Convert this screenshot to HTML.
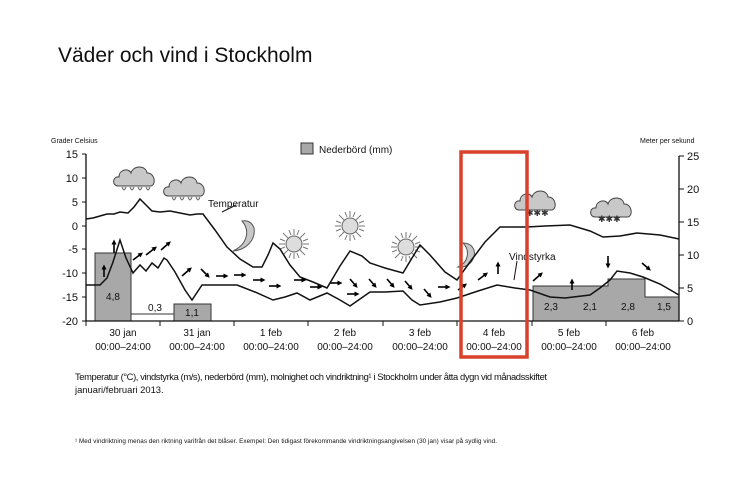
<!DOCTYPE html>
<html><head><meta charset="utf-8"><style>
body{margin:0;background:#fff;}
svg{display:block;font-family:"Liberation Sans",sans-serif;}
</style></head><body>
<svg width="750" height="500" viewBox="0 0 750 500" xmlns="http://www.w3.org/2000/svg">
<defs>
<marker id="ah" markerWidth="5" markerHeight="5" refX="2.5" refY="2.5" orient="auto" markerUnits="userSpaceOnUse"><path d="M0,0 L5,2.5 L0,5 z" fill="#000"/></marker>
<g id="cloud"><path d="M-18,6 C-24,6 -24,-4 -17,-3 C-17,-11 -7,-12 -5,-7 C-3,-15 10,-15 11,-7 C18,-8 21,4 15,6 Z" fill="#c8c8c8" stroke="#444" stroke-width="1"/></g>
<g id="drops" fill="#ddd" stroke="#555" stroke-width="0.8"><path d="M-14,7 q2,6 4,0"/><path d="M-6,7 q2,6 4,0"/><path d="M2,7 q2,6 4,0"/><path d="M10,7 q2,6 4,0"/></g>
<g id="sun"><circle r="8" fill="#ddd" stroke="#666"/><g stroke="#777" stroke-width="1">
<line x1="0" y1="-9" x2="0" y2="-15"/><line x1="0" y1="9" x2="0" y2="15"/><line x1="-9" y1="0" x2="-15" y2="0"/><line x1="9" y1="0" x2="15" y2="0"/>
<line x1="6" y1="6" x2="11" y2="11"/><line x1="-6" y1="-6" x2="-11" y2="-11"/><line x1="6" y1="-6" x2="11" y2="-11"/><line x1="-6" y1="6" x2="-11" y2="11"/>
<line x1="3" y1="-9" x2="5" y2="-14"/><line x1="-3" y1="9" x2="-5" y2="14"/><line x1="9" y1="3" x2="14" y2="5"/><line x1="-9" y1="-3" x2="-14" y2="-5"/>
<line x1="-3" y1="-9" x2="-5" y2="-14"/><line x1="3" y1="9" x2="5" y2="14"/><line x1="9" y1="-3" x2="14" y2="-5"/><line x1="-9" y1="3" x2="-14" y2="5"/></g></g>
</defs>
<text x="58" y="62" font-size="21" fill="#111">Väder och vind i Stockholm</text>

<g stroke="#333" stroke-width="1">
<rect x="95" y="253" width="36" height="68" fill="#a8a8a8"/>
<rect x="131" y="314" width="43" height="7" fill="#fff"/>
<rect x="174" y="304" width="37" height="17" fill="#a8a8a8"/>
<path d="M533,321 V286 H608 V279 H645 V297 H679 V321 Z" fill="#a8a8a8"/>
</g>
<g font-size="10" fill="#111" text-anchor="middle">
<text x="113" y="300">4,8</text><text x="155" y="311">0,3</text><text x="192" y="316">1,1</text>
<text x="551" y="310">2,3</text><text x="590" y="310">2,1</text><text x="628" y="310">2,8</text><text x="664" y="310">1,5</text>
</g>

<g stroke="#111" stroke-width="1.3" fill="none">
<line x1="86" y1="154" x2="86" y2="321"/>
<line x1="86" y1="321" x2="679" y2="321"/>
<line x1="679" y1="156" x2="679" y2="321"/>
</g>
<g stroke="#111" stroke-width="1">
<line x1="82" y1="154" x2="86" y2="154"/><line x1="82" y1="178" x2="86" y2="178"/><line x1="82" y1="202" x2="86" y2="202"/><line x1="82" y1="226" x2="86" y2="226"/><line x1="82" y1="249" x2="86" y2="249"/><line x1="82" y1="273" x2="86" y2="273"/><line x1="82" y1="297" x2="86" y2="297"/><line x1="82" y1="321" x2="86" y2="321"/>
<line x1="679" y1="156" x2="684" y2="156"/><line x1="679" y1="189" x2="684" y2="189"/><line x1="679" y1="222" x2="684" y2="222"/><line x1="679" y1="255" x2="684" y2="255"/><line x1="679" y1="288" x2="684" y2="288"/><line x1="679" y1="321" x2="684" y2="321"/>
<line x1="160" y1="321" x2="160" y2="326"/><line x1="234" y1="321" x2="234" y2="326"/><line x1="308" y1="321" x2="308" y2="326"/><line x1="383" y1="321" x2="383" y2="326"/><line x1="457" y1="321" x2="457" y2="326"/><line x1="532" y1="321" x2="532" y2="326"/><line x1="606" y1="321" x2="606" y2="326"/><line x1="86" y1="321" x2="86" y2="326"/>
</g>
<g font-size="11" fill="#111" text-anchor="end">
<text x="78" y="158">15</text><text x="78" y="182">10</text><text x="78" y="206">5</text><text x="78" y="230">0</text><text x="78" y="253">-5</text><text x="78" y="277">-10</text><text x="78" y="301">-15</text><text x="78" y="325">-20</text>
</g>
<g font-size="11" fill="#111">
<text x="687" y="160">25</text><text x="687" y="193">20</text><text x="687" y="226">15</text><text x="687" y="259">10</text><text x="687" y="292">5</text><text x="687" y="325">0</text>
</g>
<text x="51" y="143" font-size="7" fill="#111">Grader Celsius</text>
<text x="640" y="143" font-size="7" fill="#111">Meter per sekund</text>
<rect x="301" y="143" width="12" height="11" fill="#a8a8a8" stroke="#333"/>
<text x="319" y="153" font-size="10" fill="#111">Nederbörd (mm)</text>

<g font-size="10" fill="#111" text-anchor="middle">
<text x="123" y="336">30 jan</text><text x="123" y="350">00:00–24:00</text>
<text x="197" y="336">31 jan</text><text x="197" y="350">00:00–24:00</text>
<text x="271" y="336">1 feb</text><text x="271" y="350">00:00–24:00</text>
<text x="345" y="336">2 feb</text><text x="345" y="350">00:00–24:00</text>
<text x="420" y="336">3 feb</text><text x="420" y="350">00:00–24:00</text>
<text x="494" y="336">4 feb</text><text x="494" y="350">00:00–24:00</text>
<text x="569" y="336">5 feb</text><text x="569" y="350">00:00–24:00</text>
<text x="643" y="336">6 feb</text><text x="643" y="350">00:00–24:00</text>
</g>

<use href="#cloud" x="136" y="180"/><use href="#drops" x="136" y="180"/>
<use href="#cloud" x="186" y="190"/><use href="#drops" x="186" y="190"/>
<use href="#cloud" x="537" y="204"/>
<use href="#cloud" x="613" y="211"/>
<g font-size="9" fill="#333"><text x="526" y="216">✱✱✱</text><text x="598" y="222">✱✱✱</text></g>
<use href="#sun" x="294" y="244"/>
<use href="#sun" x="350" y="226"/>
<use href="#sun" x="406" y="247"/>
<path d="M242,221 C250,230 248,244 233,251 C246,250 256,240 254,228 C252,222 247,220 242,221 Z" fill="#c8c8c8" stroke="#555"/>
<path d="M463,243 C470,250 469,262 458,267 C470,268 476,258 474,250 C472,245 468,243 463,243 Z" fill="#c8c8c8" stroke="#555"/>

<polyline fill="none" stroke="#111" stroke-width="1.5" points="86,219 93,218 100,216 107,214 114,214 120,212 128,213 134,207 140,199 146,205 152,211 160,212 170,211 180,213 190,215 197,214 203,214 215,230 227,247 240,259 253,267 262,267 268,255 273,243 280,249 290,265 300,277 313,282 327,288 340,266 350,251 362,256 370,263 385,268 403,273 412,258 420,245 430,255 445,272 457,280 470,262 485,242 500,227 527,227 545,226 570,225 590,231 603,237 620,236 637,233 660,235 679,239"/>
<polyline fill="none" stroke="#111" stroke-width="1.5" points="86,285 100,285 107,278 113,262 120,240 126,258 133,273 140,265 146,271 152,263 158,268 164,258 167,260 175,272 185,290 192,300 202,285 220,285 237,285 255,292 273,300 285,297 297,293 310,300 327,293 340,300 350,306 360,299 370,292 385,292 403,291 412,300 420,305 440,302 457,298 475,292 497,285 515,288 530,290 550,297 565,298 590,295 600,288 610,280 617,271 630,273 643,277 660,284 679,295"/>
<path d="M236,205 L222,212" stroke="#111" fill="none"/>
<text x="208" y="207" font-size="10" fill="#111">Temperatur</text>
<path d="M517,261 L514,280" stroke="#111" fill="none"/>
<text x="509" y="260" font-size="10" fill="#111">Vindstyrka</text>

<g stroke="#000" stroke-width="1.6" marker-end="url(#ah)">
<path d="M104,277 v-10"/><path d="M114,253 v-11"/>
<path d="M133,260 l8,-6"/><path d="M146,255 l9,-7"/><path d="M161,250 l8,-7"/>
<path d="M182,276 l8,-7"/><path d="M201,269 l7,7"/><path d="M216,276 h10"/><path d="M234,275 h10"/>
<path d="M253,280 h10"/><path d="M269,286 h10"/><path d="M294,280 h10"/><path d="M310,287 h10"/>
<path d="M330,283 h10"/><path d="M350,279 l6,7"/><path d="M347,294 h10"/>
<path d="M369,279 l6,7"/><path d="M387,279 l6,7"/><path d="M405,281 l6,7"/><path d="M424,289 l6,7"/>
<path d="M438,287 h10"/><path d="M458,290 l7,-5"/><path d="M478,280 l8,-6"/><path d="M498,274 v-10"/>
<path d="M533,281 l8,-7"/><path d="M572,290 v-9"/><path d="M608,256 v10"/><path d="M642,263 l7,6"/>
</g>

<rect x="461" y="152" width="66" height="205" fill="none" stroke="#d9412b" stroke-width="3.5"/>

<g font-size="9.4" fill="#111">
<text x="75" y="380" textLength="472" lengthAdjust="spacing">Temperatur (°C), vindstyrka (m/s), nederbörd (mm), molnighet och vindriktning¹ i Stockholm under åtta dygn vid månadsskiftet</text>
<text x="75" y="393">januari/februari 2013.</text>
</g>
<text x="75" y="443" font-size="6.3" fill="#111" textLength="422" lengthAdjust="spacing">¹ Med vindriktning menas den riktning varifrån det blåser. Exempel: Den tidigast förekommande vindriktningsangivelsen (30 jan) visar på sydlig vind.</text>
</svg>
</body></html>
